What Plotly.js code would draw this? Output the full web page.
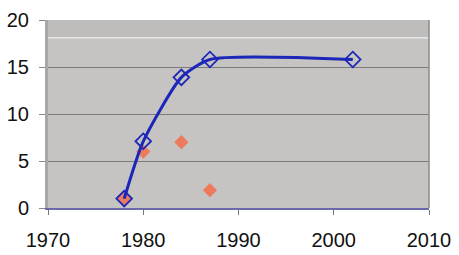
<!DOCTYPE html>
<html><head><meta charset="utf-8">
<script src="https://cdn.plot.ly/plotly-3.0.1.min.js"></script>
<style>html,body{margin:0;padding:0;background:#fff}#c{width:459px;height:255px}</style>
</head><body><div id="c"></div>
<script>
var lineYears = [1978, 1980, 1984, 1987, 2002];
var lineValues = [1.0, 7.1, 13.9, 15.8, 15.8];
var pointYears = [1978, 1980, 1984, 1987];
var pointValues = [1.0, 6.0, 7.0, 1.9];
var xTicks = [1970, 1980, 1990, 2000, 2010];
var yTicks = [0, 5, 10, 15, 20];

var traces = [
  {x: pointYears, y: pointValues, mode: 'markers', type: 'scatter',
   marker: {symbol: 'diamond', size: 11, color: '#ee7a5e', line: {width: 0}}},
  {x: lineYears, y: lineValues, mode: 'lines+markers', type: 'scatter',
   line: {color: '#1c26b8', width: 3, shape: 'spline', smoothing: 0.6},
   marker: {symbol: 'diamond-open', size: 12, color: '#1c26b8', line: {width: 1.8, color: '#1c26b8'}}}
];
var layout = {
  width: 459, height: 255,
  margin: {l: 48, r: 30, t: 20, b: 47},
  paper_bgcolor: '#ffffff', plot_bgcolor: '#c6c4c2',
  showlegend: false,
  font: {family: 'Liberation Sans, Arial, sans-serif', size: 20, color: '#111'},
  xaxis: {range: [1970, 2010], tickvals: xTicks, ticktext: xTicks.map(String),
    showgrid: false, zeroline: false, ticks: 'outside', ticklen: 5, tickcolor: '#777',
    ticklabelstandoff: 8,
    showline: true, linecolor: '#6a68a8', linewidth: 2, tickfont: {size: 20}},
  yaxis: {range: [0, 20], tickvals: yTicks, ticktext: yTicks.map(String),
    showgrid: true, gridcolor: '#7d7b7a', gridwidth: 1, zeroline: false,
    ticks: 'outside', ticklen: 6, tickcolor: '#888', showline: true, linecolor: '#a8a8a8', linewidth: 3,
    ticklabelstandoff: 6, tickfont: {size: 20}},
  shapes: [
    {type: 'rect', xref: 'paper', yref: 'paper', x0: 0, x1: 1, y0: 0.905, y1: 1,
     fillcolor: '#bebdbc', line: {width: 0}, layer: 'below'},
    {type: 'line', xref: 'paper', yref: 'paper', x0: 0, x1: 1, y0: 0.905, y1: 0.905,
     line: {color: '#e8e8e8', width: 1.5}, layer: 'below'},
    {type: 'line', xref: 'paper', yref: 'paper', x0: 1, x1: 1, y0: 0, y1: 1,
     line: {color: '#8a8a8a', width: 1.5}}
  ]
};
Plotly.newPlot('c', traces, layout, {displayModeBar: false, staticPlot: true});
</script></body></html>
